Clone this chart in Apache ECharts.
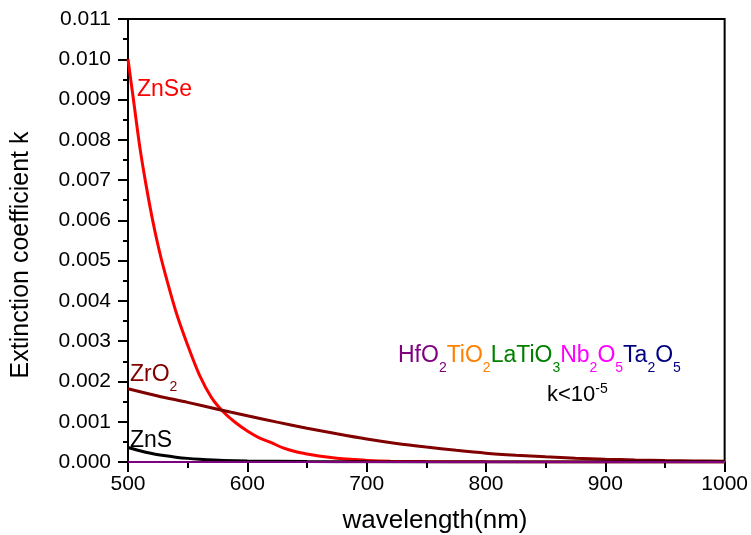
<!DOCTYPE html>
<html>
<head>
<meta charset="utf-8">
<script src="https://cdn.jsdelivr.net/npm/echarts@6/dist/echarts.min.js"></script>
<style>
  html, body { margin: 0; padding: 0; background: #fff; }
  #chart { width: 751px; height: 535px; }
</style>
</head>
<body>
<div id="chart"></div>
<script>
// 读图得到的数据
const wlZnSe = [500, 505, 510, 515, 520, 525, 530, 540, 550, 560, 570, 580, 590, 600, 610, 620, 630, 640, 650, 660, 670, 680, 690, 700, 720, 750, 800, 900, 1000]
const kZnSe = [0.0100, 0.0089, 0.0078, 0.0069, 0.0061, 0.0054, 0.0048, 0.00375, 0.0029, 0.00215, 0.0016, 0.00124, 0.00098, 0.00077, 0.0006, 0.00048, 0.00035, 0.00026, 0.0002, 0.00015, 0.00011, 0.00008, 0.00006, 0.00004, 0.00002, 0.00001, 0.000004, 0.000001, 0]

const wlZrO2 = [500, 525, 550, 575, 600, 625, 650, 675, 700, 725, 750, 775, 800, 825, 850, 875, 900, 925, 950, 975, 1000]
const kZrO2 = [0.00182, 0.00164, 0.00148, 0.00131, 0.00115, 0.00099, 0.00084, 0.0007, 0.00057, 0.00046, 0.00037, 0.00029, 0.00022, 0.00017, 0.00013, 0.000095, 0.00007, 0.00005, 0.000035, 0.000025, 0.000018]

const wlZnS = [500, 510, 520, 530, 540, 550, 560, 580, 600, 650, 700, 800, 1000]
const kZnS = [0.00036, 0.00028, 0.00021, 0.00016, 0.00012, 0.00009, 0.00007, 0.00004, 0.000025, 0.00001, 0.000004, 0.000001, 0]

// k<10^-5 的几种材料，画在 0 附近
const wlOxide = [500, 1000]
const kOxide = [0, 0]
const oxideNames = ['Ta2O5', 'Nb2O5', 'LaTiO3', 'TiO2', 'HfO2']
const oxideColors = ['#000080', '#ff00ff', '#008000', '#ff8000', '#800080']

const font = 'Liberation Sans'

function pairs(xs, ys) {
  return xs.map((x, i) => [x, ys[i]])
}

function lineSeries(name, xs, ys, color, width) {
  return {
    name: name,
    type: 'line',
    showSymbol: false,
    symbol: 'none',
    smooth: 0.3,
    lineStyle: { color: color, width: width },
    data: pairs(xs, ys)
  }
}

const series = [
  lineSeries('ZnSe', wlZnSe, kZnSe, '#ff0000', 3),
  lineSeries('ZrO2', wlZrO2, kZrO2, '#800000', 3),
  lineSeries('ZnS', wlZnS, kZnS, '#000000', 3)
]
oxideNames.forEach((n, i) => {
  series.push(lineSeries(n, wlOxide, kOxide, oxideColors[i], 2))
})

// 下标文字
const sub = (fill) => ({ fontSize: 14, fontFamily: font, fill: fill, verticalAlign: 'top', padding: [17, 0, 0, 0] })
const main = (fill) => ({ fontSize: 23, fontFamily: font, fill: fill, verticalAlign: 'top' })

const option = {
  backgroundColor: '#fff',
  animation: false,
  grid: {
    left: 128,
    right: 24,
    top: 19,
    bottom: 73,
    show: true,
    borderColor: '#000',
    borderWidth: 2
  },
  xAxis: {
    type: 'value',
    min: 500,
    max: 1000,
    interval: 100,
    axisLine: { show: true, onZero: false, lineStyle: { color: '#000', width: 2 } },
    axisTick: { show: true, length: 10, lineStyle: { color: '#000', width: 2 } },
    minorTick: { show: true, splitNumber: 2, length: 6, lineStyle: { color: '#000', width: 2 } },
    axisLabel: { color: '#000', fontSize: 21, fontFamily: font, margin: 12, formatter: (v) => String(v) },
    splitLine: { show: false }
  },
  yAxis: {
    type: 'value',
    min: 0,
    max: 0.011,
    interval: 0.001,
    axisLine: { show: true, onZero: false, lineStyle: { color: '#000', width: 2 } },
    axisTick: { show: true, length: 10, lineStyle: { color: '#000', width: 2 } },
    minorTick: { show: true, splitNumber: 2, length: 5, lineStyle: { color: '#000', width: 2 } },
    axisLabel: {
      color: '#000',
      fontSize: 21,
      fontFamily: font,
      margin: 17,
      formatter: (v) => v.toFixed(3)
    },
    splitLine: { show: false }
  },
  graphic: [
    {
      type: 'text', x: 21, y: 255, rotation: Math.PI / 2,
      style: { text: 'Extinction coefficient k', fill: '#000', font: '25px "Liberation Sans"', align: 'center', verticalAlign: 'middle' }
    },
    {
      type: 'text', x: 435, y: 521,
      style: { text: 'wavelength(nm)', fill: '#000', font: '26px "Liberation Sans"', align: 'center', verticalAlign: 'middle' }
    },
    {
      type: 'text', x: 137, y: 90,
      style: { text: 'ZnSe', fill: '#ff0000', font: '23px "Liberation Sans"', align: 'left', verticalAlign: 'middle' }
    },
    {
      type: 'text', x: 130, y: 363,
      style: {
        text: '{m|ZrO}{s|2}',
        align: 'left',
        verticalAlign: 'top',
        rich: { m: main('#800000'), s: sub('#800000') }
      }
    },
    {
      type: 'text', x: 130, y: 441,
      style: { text: 'ZnS', fill: '#000', font: '23px "Liberation Sans"', align: 'left', verticalAlign: 'middle' }
    },
    {
      type: 'text', x: 398, y: 344,
      style: {
        text: '{a|HfO}{as|2}{b|TiO}{bs|2}{c|LaTiO}{cs|3}{d|Nb}{ds|2}{d|O}{ds|5}{e|Ta}{es|2}{e|O}{es|5}',
        align: 'left',
        verticalAlign: 'top',
        rich: {
          a: main('#800080'), as: sub('#800080'),
          b: main('#ff8000'), bs: sub('#ff8000'),
          c: main('#008000'), cs: sub('#008000'),
          d: main('#ff00ff'), ds: sub('#ff00ff'),
          e: main('#000080'), es: sub('#000080')
        }
      }
    },
    {
      type: 'text', x: 547, y: 382,
      style: {
        text: '{k|k<10}{p|-5}',
        align: 'left',
        verticalAlign: 'top',
        rich: {
          k: { fontSize: 22, fontFamily: font, fill: '#000', verticalAlign: 'top', padding: [2, 0, 0, 0] },
          p: { fontSize: 14, fontFamily: font, fill: '#000', verticalAlign: 'top' }
        }
      }
    }
  ],
  series: series
}

const myChart = echarts.init(document.getElementById('chart'))
myChart.setOption(option)
</script>
</body>
</html>
